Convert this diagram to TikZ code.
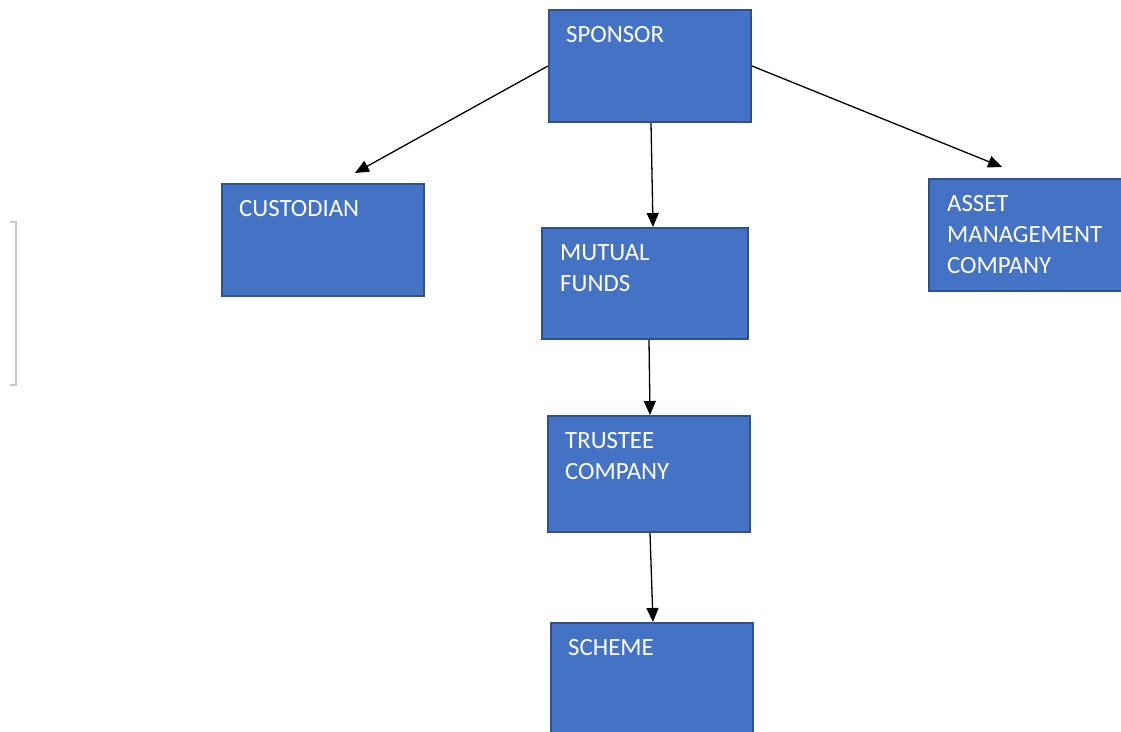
\documentclass[tikz,border=0pt]{standalone}
\usepackage{fontspec}
\setmainfont{Carlito}
\usetikzlibrary{arrows.meta,calc}
\definecolor{boxfill}{HTML}{4472C4}
\definecolor{boxline}{HTML}{2F528F}
\definecolor{brk}{HTML}{C8C8C8}
\tikzset{
  box/.style={rectangle, draw=boxline, fill=boxfill, line width=2pt, inner sep=0pt},
  lbl/.style={text=white, font=\fontsize{24.8}{31}\selectfont, inner sep=0pt, align=left, anchor=base west},
  conn/.style={line width=1.3pt, -{Triangle[length=14pt,width=12pt]}},
}
\begin{document}
\begin{tikzpicture}[x=1pt,y=-1pt]
\clip (0,0) rectangle (1121,731);
\useasboundingbox (0,0) rectangle (1121,731);
\node[box, minimum width=202pt, minimum height=112pt] (sponsor) at (650,66) {};
\node[box, minimum width=202pt, minimum height=112pt] (custodian) at (323,240) {};
\node[box, minimum width=206pt, minimum height=111pt] (mutual) at (645,283.5) {};
\node[box, minimum width=202pt, minimum height=112pt] (asset) at (1030,235) {};
\node[box, minimum width=202pt, minimum height=116pt] (trustee) at (649,474) {};
\node[box, minimum width=202pt, minimum height=112pt] (scheme) at (652,679) {};
\node[lbl] (tsponsor) at ($(sponsor.north west)+(18,33)$) {SPONSOR};
\node[lbl] (tcustodian) at ($(custodian.north west)+(18,33)$) {CUSTODIAN};
\node[lbl] (tmutual) at ($(mutual.north west)+(19,64)$) {MUTUAL\\FUNDS};
\node[lbl] (tasset) at ($(asset.north west)+(19,95)$) {ASSET\\MANAGEMENT\\COMPANY};
\node[lbl] (ttrustee) at ($(trustee.north west)+(18,64)$) {TRUSTEE\\COMPANY};
\node[lbl] (tscheme) at ($(scheme.north west)+(18,33)$) {SCHEME};
\coordinate (ecust) at ($(custodian.north)+(32,-10)$);
\coordinate (easset) at ($(asset.north)+(-28,-11)$);
\draw[conn] (sponsor.west) -- (ecust);
\draw[conn] (sponsor.east) -- (easset);
\draw[conn] ($(sponsor.south)+(1,0)$) -- ($(mutual.north)+(8,0)$);
\draw[conn] ($(mutual.south)+(4,0)$) -- ($(trustee.north)+(1,0)$);
\draw[conn] ($(trustee.south)+(1,0)$) -- ($(scheme.north)+(1,0)$);
\draw[brk, line width=1.5pt] (10,222) -- (16,222) -- (16,385) -- (10,385);
\end{tikzpicture}
\end{document}
